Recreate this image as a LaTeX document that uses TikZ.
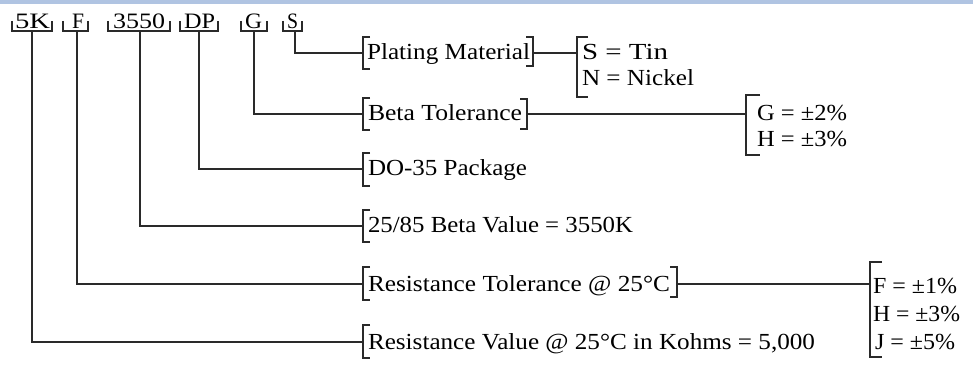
\documentclass[tikz,border=0pt]{standalone}
\usepackage{fontspec}
\setmainfont{Liberation Serif}
\usepackage{graphicx}
\definecolor{barblue}{HTML}{B0C4E2}
\definecolor{lnc}{HTML}{2A2A2A}
\newcommand\fw[2]{\resizebox{#1pt}{\height}{#2}}
\newcommand\lbr[4]{\draw[ln] (#1+#4,#2) -- (#1,#2) -- (#1,#3) -- (#1+#4,#3);}
\newcommand\rbr[3]{\draw[ln] (#1-7,#2) -- (#1,#2) -- (#1,#3) -- (#1-7,#3);}
\newcommand\tbr[3]{\draw[ln] (#1,21) -- (#1,31) -- (#2,31) -- (#2,21);}
\begin{document}
\begin{tikzpicture}[x=1pt,y=-1pt,
  ln/.style={line width=1.4pt, draw=lnc},
  txt/.style={inner sep=0pt, outer sep=0pt, anchor=base west, font=\fontsize{23}{27}\selectfont},
  toptxt/.style={txt, font=\fontsize{22}{26}\selectfont}]
\useasboundingbox (0,0) rectangle (973,371);
\fill[barblue] (0,0) rectangle (973,4);

% top code labels
\node[toptxt] (t5K) at (15,29) {\fw{35}{5K}};
\node[toptxt] (tF) at (72,29) {\fw{12}{F}};
\node[toptxt] (t3550) at (113,29) {\fw{52}{3550}};
\node[toptxt] (tDP) at (184,29) {\fw{31}{DP}};
\node[toptxt] (tG) at (245,29) {\fw{17}{G}};
\node[toptxt] (tS) at (287,29) {\fw{11}{S}};
\tbr{12}{52}{}
\tbr{63}{88}{}
\tbr{108}{170}{}
\tbr{180}{218}{}
\tbr{241}{267}{}
\tbr{283}{302}{}
\coordinate (s5K) at (32,31);
\coordinate (sF) at (77,31);
\coordinate (s3550) at (140,31);
\coordinate (sDP) at (199,31);
\coordinate (sG) at (254,31);
\coordinate (sS) at (295,31);

% description labels
\node[txt] (lPM) at (367,60) {\fw{163}{Plating Material}};
\node[txt] (lBT) at (368,121) {\fw{154}{Beta Tolerance}};
\node[txt] (lDO) at (368,176) {\fw{159}{DO-35 Package}};
\node[txt] (lBV) at (368,233) {\fw{265}{25/85 Beta Value = 3550K}};
\node[txt] (lRT) at (368,291) {\fw{302}{Resistance Tolerance @ 25°C}};
\node[txt] (lRV) at (368,349) {\fw{447}{Resistance Value @ 25°C in Kohms = 5,000}};

\coordinate (bPM) at (363,53);
\coordinate (bBT) at (363,114);
\coordinate (bDO) at (363,169);
\coordinate (bBV) at (363,226);
\coordinate (bRT) at (363,284);
\coordinate (bRV) at (363,342);
\lbr{363}{37}{69}{7}
\lbr{363}{98}{130}{7}
\lbr{363}{153}{186}{7}
\lbr{363}{210}{242}{7}
\lbr{363}{267}{300}{7}
\lbr{363}{325}{358}{7}
\rbr{533}{37}{66}
\rbr{527}{99}{129}
\rbr{677}{267}{297}
\coordinate (rPM) at (533,53);
\coordinate (rBT) at (527,114);
\coordinate (rRT) at (677,284);

% value lists
\node[txt] (vS) at (582,60) {\fw{86}{S = Tin}};
\node[txt] (vN) at (582,86) {\fw{112}{N = Nickel}};
\node[txt] (vG) at (757,121) {\fw{90}{G = ±2\%}};
\node[txt] (vH1) at (757,147) {\fw{90}{H = ±3\%}};
\node[txt] (vF) at (873,293) {\fw{84}{F = ±1\%}};
\node[txt] (vH2) at (873,321) {\fw{87}{H = ±3\%}};
\node[txt] (vJ) at (875,349) {\fw{80}{J = ±5\%}};
\lbr{577}{37}{97}{11}
\lbr{746}{95}{155}{14}
\lbr{870}{262}{357}{12}
\coordinate (cSN) at (577,53);
\coordinate (cGH) at (746,114);
\coordinate (cFHJ) at (870,284);

% connectors
\draw[ln] (s5K) |- (bRV);
\draw[ln] (sF) |- (bRT);
\draw[ln] (s3550) |- (bBV);
\draw[ln] (sDP) |- (bDO);
\draw[ln] (sG) |- (bBT);
\draw[ln] (sS) |- (bPM);
\draw[ln] (rPM) -- (cSN);
\draw[ln] (rBT) -- (cGH);
\draw[ln] (rRT) -- (cFHJ);
\end{tikzpicture}
\end{document}
